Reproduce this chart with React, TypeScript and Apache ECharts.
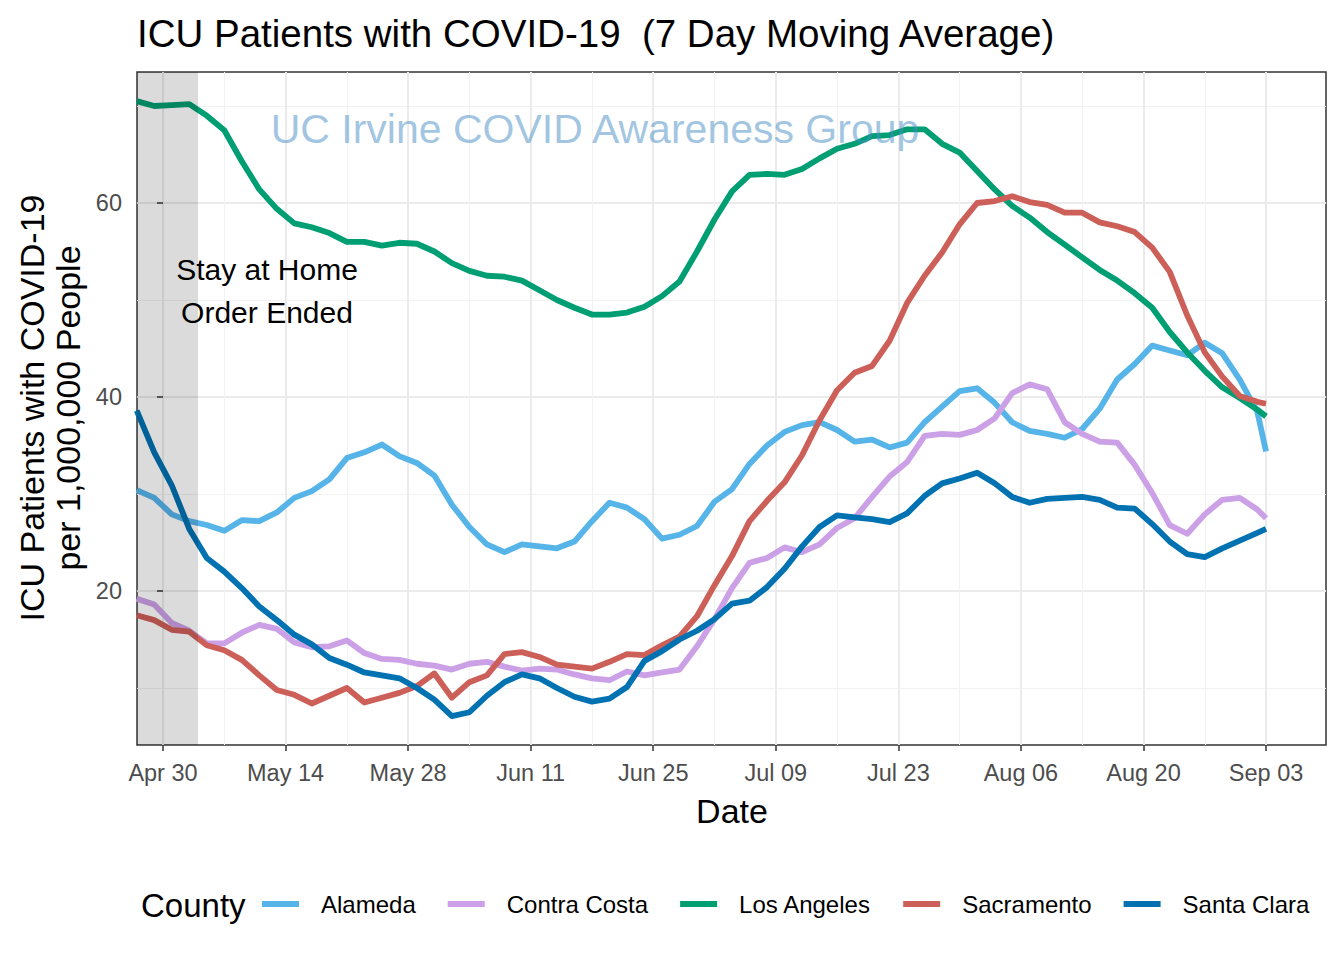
import React, { useEffect, useRef } from "react";
import * as echarts from "echarts";

// ---------- data ----------
const YEAR = 2020;
const dates = [
  "04-27", "04-29",
  "05-01", "05-03", "05-05", "05-07", "05-09", "05-11", "05-13", "05-15", "05-17", "05-19", "05-21", "05-23", "05-25", "05-27", "05-29", "05-31",
  "06-02", "06-04", "06-06", "06-08", "06-10", "06-12", "06-14", "06-16", "06-18", "06-20", "06-22", "06-24", "06-26", "06-28", "06-30",
  "07-02", "07-04", "07-06", "07-08", "07-10", "07-12", "07-14", "07-16", "07-18", "07-20", "07-22", "07-24", "07-26", "07-28", "07-30",
  "08-01", "08-03", "08-05", "08-07", "08-09", "08-11", "08-13", "08-15", "08-17", "08-19", "08-21", "08-23", "08-25", "08-27", "08-29", "08-31",
  "09-02", "09-03",
];

const alameda = [
  30.4, 29.6,
  27.9, 27.2, 26.8, 26.2, 27.3, 27.2, 28.1, 29.6, 30.3, 31.5, 33.7, 34.3, 35.1, 33.9, 33.2, 31.9,
  28.9, 26.6, 24.8, 24.0, 24.8, 24.6, 24.4, 25.1, 27.2, 29.1, 28.6, 27.4, 25.4, 25.8, 26.7,
  29.2, 30.5, 33.1, 35.0, 36.4, 37.1, 37.4, 36.6, 35.4, 35.6, 34.8, 35.3, 37.4, 39.0, 40.6,
  40.9, 39.4, 37.4, 36.5, 36.2, 35.8, 36.7, 38.8, 41.8, 43.4, 45.3, 44.8, 44.3, 45.6, 44.5, 41.8,
  38.5, 34.4,
];
const contraCosta = [
  19.2, 18.6,
  16.7, 15.9, 14.6, 14.6, 15.7, 16.5, 16.1, 14.7, 14.2, 14.3, 14.9, 13.6, 13.0, 12.9, 12.5, 12.3,
  11.9, 12.5, 12.7, 12.2, 11.8, 12.0, 11.9, 11.4, 11.0, 10.8, 11.7, 11.3, 11.6, 11.9, 14.3,
  17.1, 20.3, 22.9, 23.4, 24.5, 24.0, 24.8, 26.5, 27.5, 29.7, 31.8, 33.3, 36.0, 36.2, 36.1,
  36.6, 37.8, 40.4, 41.3, 40.8, 37.4, 36.2, 35.4, 35.3, 33.0, 30.1, 26.8, 25.9, 27.9, 29.4, 29.6,
  28.4, 27.5,
];
const losAngeles = [
  70.5, 70.0,
  70.1, 70.2, 69.0, 67.5, 64.3, 61.4, 59.4, 57.9, 57.5, 56.9, 56.0, 56.0, 55.6, 55.9, 55.8, 55.0,
  53.8, 53.0, 52.5, 52.4, 52.0, 51.0, 50.0, 49.2, 48.5, 48.5, 48.7, 49.3, 50.4, 51.9, 55.0,
  58.3, 61.2, 62.9, 63.0, 62.9, 63.5, 64.6, 65.6, 66.1, 66.9, 67.0, 67.6, 67.6, 66.1, 65.2,
  63.3, 61.4, 59.7, 58.5, 57.0, 55.7, 54.4, 53.1, 52.0, 50.7, 49.2, 46.7, 44.6, 42.7, 41.0, 39.9,
  38.7, 38.0,
];
const sacramento = [
  17.5, 17.0,
  16.0, 15.8, 14.4, 13.9, 12.9, 11.3, 9.8, 9.3, 8.4, 9.2, 10.0, 8.5, 9.0, 9.5, 10.2, 11.5,
  9.0, 10.6, 11.3, 13.5, 13.7, 13.2, 12.4, 12.2, 12.0, 12.7, 13.5, 13.4, 14.4, 15.3, 17.4,
  20.6, 23.6, 27.2, 29.3, 31.2, 34.0, 37.6, 40.7, 42.5, 43.2, 45.8, 49.7, 52.5, 54.9, 57.8,
  60.0, 60.2, 60.7, 60.1, 59.8, 59.0, 59.0, 58.0, 57.6, 57.0, 55.4, 52.9, 48.4, 44.6, 42.1, 40.1,
  39.5, 39.3,
];
const santaClara = [
  38.6, 34.3,
  30.9, 26.4, 23.4, 22.0, 20.3, 18.4, 17.0, 15.5, 14.5, 13.1, 12.4, 11.6, 11.3, 11.0, 10.0, 8.8,
  7.1, 7.5, 9.2, 10.6, 11.4, 11.0, 10.0, 9.1, 8.6, 8.9, 10.1, 12.8, 13.8, 15.0, 15.9,
  17.1, 18.7, 19.0, 20.4, 22.3, 24.6, 26.6, 27.8, 27.6, 27.4, 27.1, 28.0, 29.8, 31.1, 31.6,
  32.2, 31.1, 29.7, 29.1, 29.5, 29.6, 29.7, 29.4, 28.6, 28.5, 26.9, 25.1, 23.8, 23.5, 24.4, 25.2,
  26.0, 26.4,
];

const counties = ["Alameda", "Contra Costa", "Los Angeles", "Sacramento", "Santa Clara"];
const countyValues = [alameda, contraCosta, losAngeles, sacramento, santaClara];
const countyColors = ["#56B4E9", "#CBA0E6", "#009E73", "#CD5F59", "#0072B2"];

const xTickDates = ["04-30", "05-14", "05-28", "06-11", "06-25", "07-09", "07-23", "08-06", "08-20", "09-03"];
const xMinorDates = ["05-07", "05-21", "06-04", "06-18", "07-02", "07-16", "07-30", "08-13", "08-27"];
const yTicks = [20, 40, 60];
const yMinorTicks = [10, 30, 50, 70];
const stayHomeEnd = "05-04";
const monthNames = ["Jan", "Feb", "Mar", "Apr", "May", "Jun", "Jul", "Aug", "Sep", "Oct", "Nov", "Dec"];

// ---------- helpers ----------
const BASE = Date.UTC(YEAR, 3, 30);
const dayOffset = (md: string) => {
  const [m, d] = md.split("-").map(Number);
  return (Date.UTC(YEAR, m - 1, d) - BASE) / 86400000;
};
const fmtDay = (v: number) => {
  const t = new Date(BASE + Math.round(v) * 86400000);
  return monthNames[t.getUTCMonth()] + " " + String(t.getUTCDate()).padStart(2, "0");
};

const X_MIN = -2.97;
const X_MAX = 132.85;
const Y_MIN = 4.124;
const Y_MAX = 73.505;
const FONT = "'Liberation Sans', Arial, Helvetica, sans-serif";

export default function App() {
  const ref = useRef<HTMLDivElement>(null);

  useEffect(() => {
    if (!ref.current) return;
    const chart = echarts.init(ref.current, undefined, { renderer: "svg" });
    const xTicks = xTickDates.map(dayOffset);
    const xMinor = xMinorDates.map(dayOffset);
    const xs = dates.map(dayOffset);

    const lineSeries = counties.map((name, i) => ({
      name,
      type: "line",
      xAxisIndex: 0,
      yAxisIndex: 0,
      data: xs.map((x, j) => [x, countyValues[i][j]]),
      showSymbol: false,
      symbol: "none",
      lineStyle: { color: countyColors[i], width: 5.8, join: "round", cap: "butt" },
      itemStyle: { color: countyColors[i] },
      z: 3 + i * 0.01,
    }));

    const option: any = {
      animation: false,
      backgroundColor: "#ffffff",
      textStyle: { fontFamily: FONT },
      title: {
        text: "ICU Patients with COVID-19  (7 Day Moving Average)",
        left: 132,
        top: 9,
        textStyle: { fontSize: 38.5, fontWeight: "normal", color: "#000", fontFamily: FONT },
      },
      grid: {
        left: 137,
        top: 72,
        width: 1189,
        height: 673,
        show: true,
        backgroundColor: "#ffffff",
        borderColor: "#333333",
        borderWidth: 1.5,
        containLabel: false,
      },
      legend: {
        data: counties,
        left: 262,
        top: 892,
        padding: 0,
        icon: "rect",
        itemWidth: 37,
        itemHeight: 6,
        itemGap: 32,
        textStyle: { fontSize: 24, color: "#000", fontFamily: FONT, padding: [0, 0, 0, 17] },
        selectedMode: false,
      },
      xAxis: [
        {
          type: "value",
          min: X_MIN,
          max: X_MAX,
          position: "bottom",
          axisLine: { show: false },
          axisTick: {
            show: true,
            length: 6,
            lineStyle: { color: "#333333", width: 1.5 },
            customValues: xTicks,
          },
          axisLabel: {
            customValues: xTicks,
            formatter: (v: number) => fmtDay(v),
            fontSize: 23.5,
            color: "#4D4D4D",
            margin: 16,
            fontFamily: FONT,
          },
          splitLine: { show: true, lineStyle: { color: "#EBEBEB", width: 2 } },
        },
        {
          type: "value",
          min: X_MIN,
          max: X_MAX,
          position: "bottom",
          axisLine: { show: false },
          axisTick: { show: false, customValues: xMinor },
          axisLabel: { show: false, customValues: xMinor },
          splitLine: { show: true, lineStyle: { color: "#F2F2F2", width: 1 } },
        },
      ],
      yAxis: [
        {
          type: "value",
          min: Y_MIN,
          max: Y_MAX,
          axisLine: { show: false },
          axisTick: {
            show: true,
            length: 6,
            lineStyle: { color: "#333333", width: 1.5 },
            customValues: yTicks,
          },
          axisLabel: {
            customValues: yTicks,
            fontSize: 23.5,
            color: "#4D4D4D",
            margin: 15,
            fontFamily: FONT,
          },
          splitLine: { show: true, lineStyle: { color: "#EBEBEB", width: 2 } },
        },
        {
          type: "value",
          min: Y_MIN,
          max: Y_MAX,
          position: "left",
          axisLine: { show: false },
          axisTick: { show: false, customValues: yMinorTicks },
          axisLabel: { show: false, customValues: yMinorTicks },
          splitLine: { show: true, lineStyle: { color: "#F2F2F2", width: 1 } },
        },
      ],
      series: [
        ...lineSeries,
        {
          name: "shade",
          type: "line",
          data: [],
          silent: true,
          z: 10,
          markArea: {
            silent: true,
            z: 10,
            itemStyle: { color: "rgba(0,0,0,0.14)" },
            data: [[{ xAxis: X_MIN }, { xAxis: dayOffset(stayHomeEnd) }]],
          },
        },
      ],
      graphic: [
        {
          type: "text",
          x: 267,
          y: 291,
          z: 50,
          style: {
            text: "Stay at Home\nOrder Ended",
            fontSize: 30,
            fontFamily: FONT,
            lineHeight: 43,
            fill: "#000",
            align: "center",
            verticalAlign: "middle",
          },
        },
        {
          type: "text",
          x: 595,
          y: 129,
          z: 60,
          style: {
            text: "UC Irvine COVID Awareness Group",
            fontSize: 41,
            fontFamily: FONT,
            fill: "rgba(70,140,195,0.5)",
            align: "center",
            verticalAlign: "middle",
          },
        },
        {
          type: "text",
          x: 732,
          y: 811,
          style: {
            text: "Date",
            fontSize: 34,
            fontFamily: FONT,
            fill: "#000",
            align: "center",
            verticalAlign: "middle",
          },
        },
        {
          type: "text",
          x: 50,
          y: 408,
          rotation: Math.PI / 2,
          style: {
            text: "ICU Patients with COVID-19\nper 1,000,000 People",
            fontSize: 34,
            lineHeight: 36,
            fontFamily: FONT,
            fill: "#000",
            align: "center",
            verticalAlign: "middle",
          },
        },
        {
          type: "text",
          x: 141,
          y: 905,
          style: {
            text: "County",
            fontSize: 33,
            fontFamily: FONT,
            fill: "#000",
            align: "left",
            verticalAlign: "middle",
          },
        },
      ],
    };

    chart.setOption(option);
    return () => chart.dispose();
  }, []);

  return (
    <div
      ref={ref}
      style={{ position: "absolute", left: 0, top: 0, width: 1344, height: 960 }}
    />
  );
}
